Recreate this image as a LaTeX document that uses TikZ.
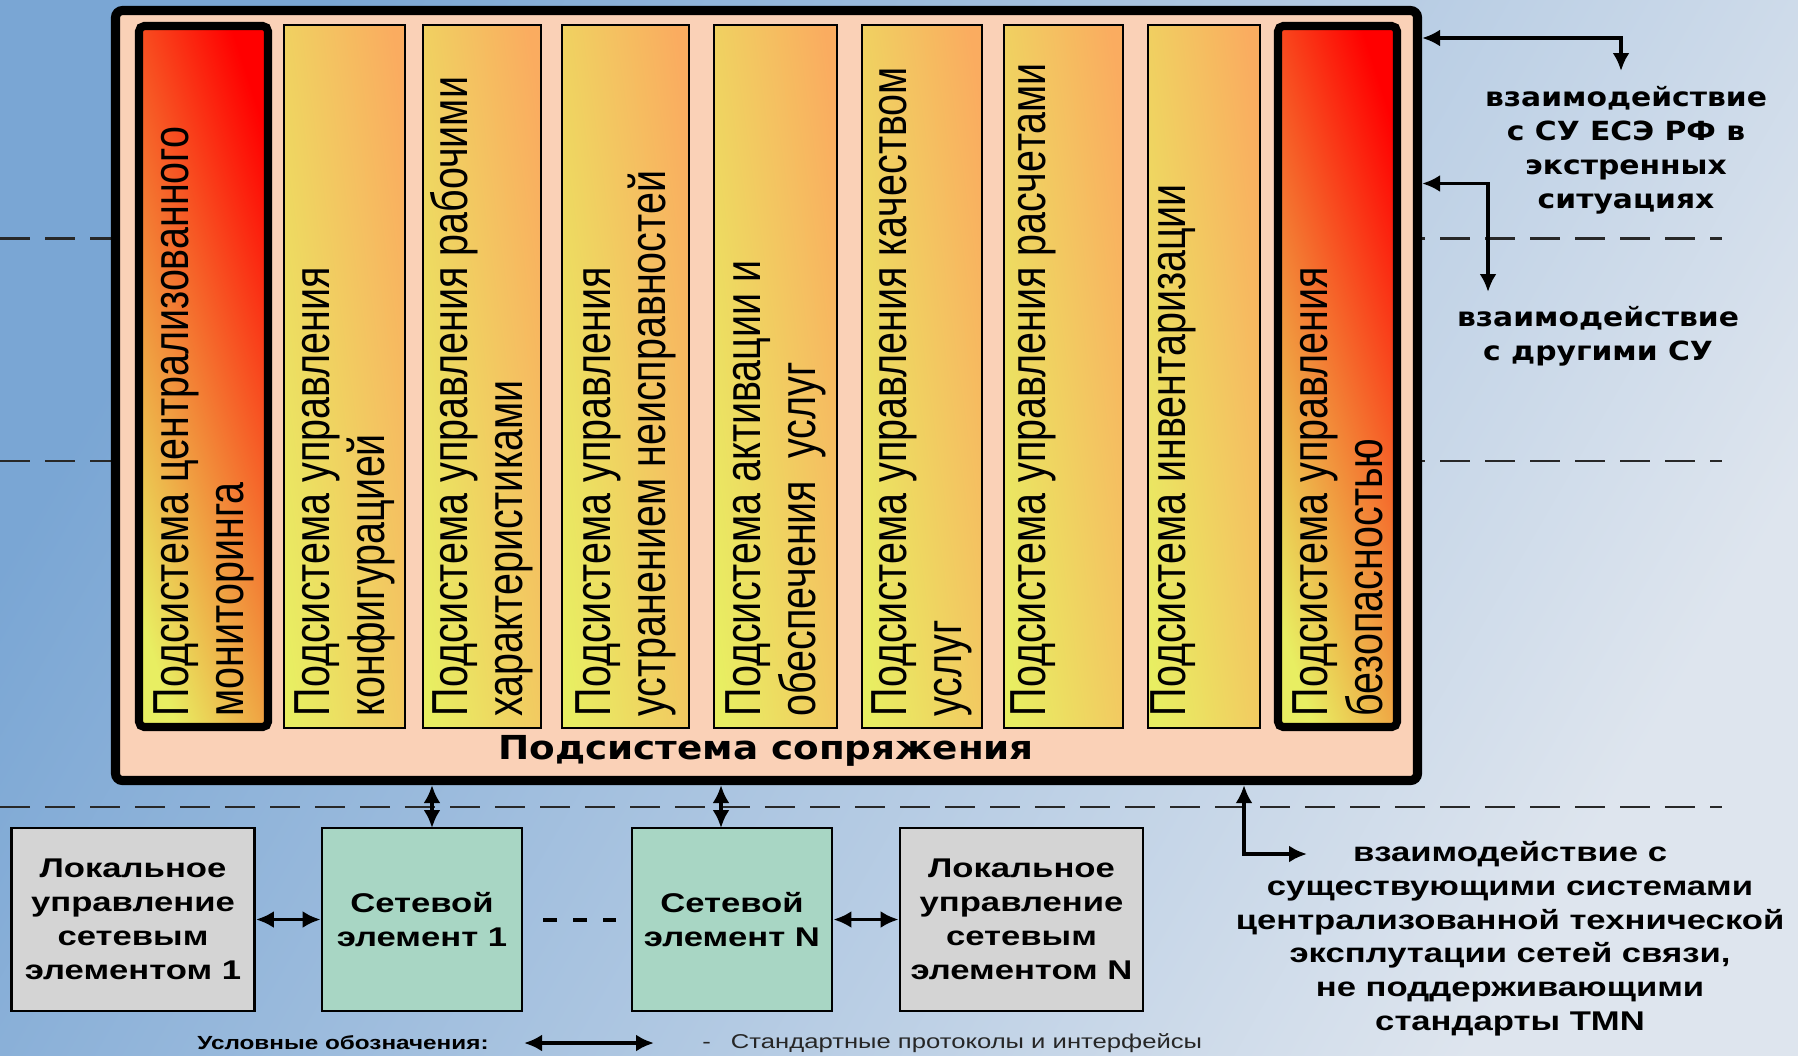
\documentclass[tikz,border=0pt]{standalone}
\usepackage{fontspec}
\usepackage{tikz}
\usetikzlibrary{arrows.meta}
\setmainfont{Liberation Sans}
\newfontfamily\colfont[FakeStretch=0.78]{Liberation Sans}
\newfontfamily\boxfont[FakeStretch=1.28]{Liberation Sans}
\newfontfamily\widefont[FakeStretch=1.13]{DejaVu Sans}

\definecolor{bgdark}{RGB}{122,166,212}
\definecolor{bglight}{RGB}{222,229,238}
\definecolor{peach}{RGB}{250,209,183}
\definecolor{lemon}{RGB}{232,238,98}
\definecolor{apricot}{RGB}{250,172,96}
\definecolor{flame}{RGB}{255,0,0}
\definecolor{ember}{RGB}{242,110,40}
\definecolor{steel}{RGB}{212,212,212}
\definecolor{mint}{RGB}{168,214,196}
\definecolor{dashgray}{RGB}{40,40,40}

\begin{document}
\begin{tikzpicture}[x=0.1mm, y=-0.1mm,
    hubbox/.style ={draw, line width=2.6pt, fill=peach, rounded corners=2pt, minimum width=130.2mm, minimum height=77mm, inner sep=0pt},
    sysbox/.style ={draw, line width=0.7pt, top color=apricot, bottom color=lemon, shading angle=-82, minimum height=70.3mm, inner sep=0pt},
    hotbox/.style ={draw, line width=2.3pt, rounded corners=1.5pt, top color=flame, middle color=ember, bottom color=lemon, shading angle=-72, minimum height=70.1mm, inner sep=0pt},
    syslabel/.style ={rotate=90, anchor=west, align=left, inner sep=0pt, font=\colfont\fontsize{14.4}{15.6}\selectfont},
    hubtitle/.style ={font=\widefont\bfseries\fontsize{9.4}{11}\selectfont},
    localbox/.style ={draw, line width=0.8pt, fill=steel, minimum width=24.3mm, minimum height=18.3mm, inner sep=0pt, align=center, font=\boxfont\bfseries\fontsize{7.7}{9.7}\selectfont},
    nebox/.style ={localbox, fill=mint, minimum width=20mm},
    notetext/.style ={align=center, font=\widefont\bfseries\fontsize{7.5}{9.7}\selectfont},
    legacytext/.style ={align=center, font=\boxfont\bfseries\fontsize{7.7}{9.6}\selectfont},
    protocol/.style ={{Latex[length=1.8mm,width=1.7mm]}-{Latex[length=1.8mm,width=1.7mm]}, line width=1.1pt},
    zoneline/.style ={dashgray, line width=0.6pt, dash pattern=on 3mm off 1.5mm}]

   \shade[top color=bgdark, bottom color=bglight, shading angle=60] (0,0) rectangle (1798,1055);
   \useasboundingbox (0,0) rectangle (1798,1055);

   \draw[zoneline] (0,238.5) -- (1722,238.5);
   \draw[zoneline] (0,461) -- (1722,461);
   \draw[zoneline] (0,807) -- (1722,807);

   \node[hubbox] (hub) at (766.5,395.5) {};

   \node[hotbox, minimum width=12.9mm] (c1) at (203.5,376.5) {};
   \node[sysbox, minimum width=12.1mm] (c2) at (344.5,376.5) {};
   \node[sysbox, minimum width=11.8mm] (c3) at (482,376.5) {};
   \node[sysbox, minimum width=12.7mm] (c4) at (625.5,376.5) {};
   \node[sysbox, minimum width=12.3mm] (c5) at (775.5,376.5) {};
   \node[sysbox, minimum width=12.0mm] (c6) at (922,376.5) {};
   \node[sysbox, minimum width=11.9mm] (c7) at (1063.5,376.5) {};
   \node[sysbox, minimum width=11.2mm] (c8) at (1204,376.5) {};
   \node[hotbox, minimum width=11.9mm] (c9) at (1337.5,376.5) {};

   \node[syslabel] (t1) at (203.5,717) {Подсистема централизованного\\мониторинга};
   \node[syslabel] (t2) at (344.5,717) {Подсистема управления\\конфигурацией};
   \node[syslabel] (t3) at (482,717) {Подсистема управления рабочими\\характеристиками};
   \node[syslabel] (t4) at (625.5,717) {Подсистема управления\\устранением неисправностей};
   \node[syslabel] (t5) at (775.5,717) {Подсистема активации и\\обеспечения~~услуг};
   \node[syslabel] (t6) at (922,717) {Подсистема управления качеством\\услуг};
   \node[syslabel] (t7) at (1063.5,717) {Подсистема управления расчетами\\\strut};
   \node[syslabel] (t8) at (1204,717) {Подсистема инвентаризации\\\strut};
   \node[syslabel] (t9) at (1337.5,717) {Подсистема управления\\безопасностью};

   \node[hubtitle] (iface) at (766,751) {Подсистема сопряжения};

   \node[localbox] (loc1) at (133,919.5) {Локальное\\управление\\сетевым\\элементом 1};
   \node[nebox] (ne1) at (422,919.5) {Сетевой\\элемент 1};
   \node[nebox] (neN) at (732,919.5) {Сетевой\\элемент N};
   \node[localbox] (locN) at (1021.5,919.5) {Локальное\\управление\\сетевым\\элементом N};

   \node[notetext] (escnote) at (1626,150) {взаимодействие\\с СУ ЕСЭ РФ в\\экстренных\\ситуациях};
   \node[notetext] (peernote) at (1598,336.5) {взаимодействие\\с другими СУ};
   \node[legacytext] (tmnnote) at (1510,938.6) {взаимодействие с\\существующими системами\\централизованной технической\\эксплутации сетей связи,\\не поддерживающими\\стандарты TMN};

   \coordinate (escturn) at (1621,38);
   \coordinate (escend) at (1621,71);
   \coordinate (peerturn) at (1488,183.5);
   \coordinate (peerend) at (1488,292);
   \coordinate (tmnturn) at (1244,854);
   \coordinate (tmnend) at (1307,854);
   \coordinate (ne1port) at (432,828);
   \coordinate (neNport) at (721,828);

   \draw[protocol] (hub.east |- escturn) -| (escend);
   \draw[protocol] (hub.east |- peerturn) -| (peerend);
   \draw[protocol] (hub.south -| tmnturn) |- (tmnend);
   \draw[protocol] (hub.south -| ne1port) -- (ne1port);
   \draw[protocol] (hub.south -| neNport) -- (neNport);
   \draw[protocol] (loc1) to (ne1);
   \draw[protocol] (neN) to (locN);
   \draw[line width=0.4mm, dash pattern=on 1.4mm off 1.6mm] ([xshift=2mm]ne1.east) -- ([xshift=-1.5mm]neN.west);

   \node[anchor=east, font=\boxfont\bfseries\fontsize{5.4}{6}\selectfont] (legend) at (501,1043) {Условные обозначения:};
   \node[anchor=west, text=black!85, font=\boxfont\fontsize{5.7}{6}\selectfont] (legendstd) at (690,1043) {-\hspace{2mm}Стандартные протоколы и интерфейсы};
   \draw[protocol] ([xshift=2.3mm]legend.east) -- ([xshift=-3.6mm]legendstd.west);

 \end{tikzpicture}
\end{document}
